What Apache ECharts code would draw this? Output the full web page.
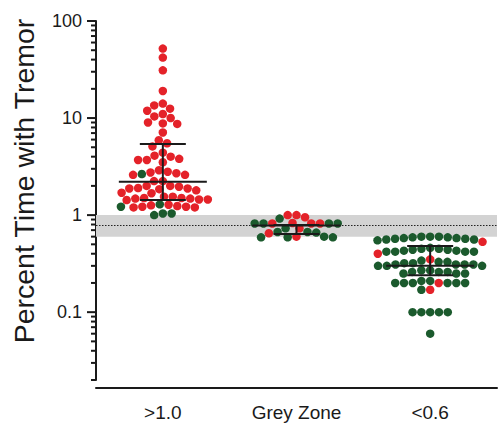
<!DOCTYPE html>
<html>
<head>
<meta charset="utf-8">
<script src="https://cdn.jsdelivr.net/npm/echarts@6/dist/echarts.min.js"></script>
<style>
html,body{margin:0;padding:0;background:#fff;}
#chart{width:499px;height:423px;}
</style>
</head>
<body>
<div id="chart"></div>
<script>
// ---- data ----
const categories = ['>1.0', 'Grey Zone', '<0.6'];
const yTickLabels = [0.1, 1, 10, 100];
const yRange = [0.02, 100];
const greyZone = [0.6, 1.0];
const cutoff = 0.78;

const redGt1 = [52, 42, 31, 19, 14.1, 13.5, 12.5, 11.9, 11.0, 10.4, 10.0, 9.0, 8.8, 8.7, 7.1,
  5.9, 5.5, 5.1, 4.4, 4.0, 3.7, 3.5, 3.7, 3.8, 4.1, 2.8, 2.7, 2.6, 2.6, 2.75, 2.9,
  2.24, 2.0, 1.9, 1.88, 1.8, 1.85, 1.88, 1.96, 2.0, 2.24,
  1.7, 1.55, 1.5, 1.48, 1.45, 1.43, 1.45, 1.48, 1.5, 1.55, 1.68,
  1.26, 1.22, 1.22, 1.2, 1.2, 1.24, 1.28];
const greenGt1 = [2.65, 1.29, 1.22, 1.04, 1.0, 1.04];

const redGrey = [0.95, 1.0, 1.0, 0.83, 0.82, 0.82, 0.82, 0.73, 0.6, 0.65];
const greenGrey = [0.82, 0.82, 0.82, 0.82, 0.92, 0.73, 0.67, 0.66, 0.6, 0.59, 0.59, 0.59, 0.67];

const redLt06 = [0.53, 0.40, 0.35, 0.2, 0.17];
const greenLt06 = [0.6, 0.59, 0.58, 0.57, 0.56, 0.6, 0.6, 0.59, 0.58, 0.57, 0.56, 0.55,
  0.46, 0.45, 0.44, 0.43, 0.42, 0.42, 0.42, 0.42, 0.43, 0.44, 0.45,
  0.34, 0.33, 0.32, 0.31, 0.31, 0.3, 0.3, 0.3, 0.31, 0.31, 0.32, 0.33,
  0.27, 0.26, 0.25, 0.25, 0.25, 0.26, 0.27, 0.26,
  0.21, 0.2, 0.2, 0.2, 0.2, 0.2, 0.2, 0.21, 0.17,
  0.1, 0.1, 0.1, 0.1, 0.1, 0.06];

const medians = [2.2, 0.78, 0.3];
const lowerQ = [1.43, 0.64, 0.24];
const upperQ = [5.4, 0.79, 0.48];

// ---- styling ----
const RED = '#e42229', GREEN = '#1b5a2d', INK = '#1a1a1a';
const FONT = "'Liberation Sans', Arial, sans-serif";
const DOT = 8.5, GAP = 8.8;

const groups = [
  {red: redGt1, green: greenGt1},
  {red: redGrey, green: greenGrey},
  {red: redLt06, green: greenLt06}
];

// minor/major log ticks
const tickVals = [];
for (let k = -2; k <= 2; k++) {
  for (let m = 1; m <= 9; m++) {
    const v = +(m * Math.pow(10, k)).toPrecision(6);
    if (v >= yRange[0] - 1e-9 && v <= yRange[1] + 1e-9) tickVals.push([0, v, m === 1 ? 1 : 0]);
  }
}

const chart = echarts.init(document.getElementById('chart'), null, {renderer: 'svg'});

const baseOption = {
  animation: false,
  backgroundColor: '#fff',
  grid: {left: 96, right: 2, top: 21, bottom: 43},
  xAxis: {
    type: 'category', data: categories, offset: 8,
    axisLine: {lineStyle: {color: INK, width: 2}},
    axisTick: {alignWithLabel: true, length: 9, lineStyle: {color: INK, width: 2}},
    axisLabel: {color: INK, fontSize: 19, fontFamily: FONT, margin: 15},
    splitLine: {show: false}
  },
  yAxis: {
    type: 'log', min: yRange[0], max: yRange[1], logBase: 10,
    axisLine: {show: true, lineStyle: {color: INK, width: 2}},
    axisTick: {show: false},
    splitLine: {show: false},
    axisLabel: {
      color: INK, fontSize: 18, fontFamily: FONT, margin: 14,
      formatter: function (v) {
        const t = yTickLabels.find(t => Math.abs(Math.log10(v) - Math.log10(t)) < 1e-6);
        return t === undefined ? '' : String(t);
      }
    }
  },
  graphic: [{
    type: 'text', x: 24, y: 181, rotation: Math.PI / 2,
    style: {text: 'Percent Time with Tremor', font: "28.5px 'Liberation Sans', Arial, sans-serif",
      fill: INK, align: 'center', verticalAlign: 'middle', textAlign: 'center', textVerticalAlign: 'middle'}
  }],
  series: [
    {
      type: 'scatter', data: [], z: 1,
      markArea: {silent: true, itemStyle: {color: '#d3d3d3'},
        data: [[{yAxis: greyZone[0]}, {yAxis: greyZone[1]}]]},
      markLine: {silent: true, symbol: ['none', 'none'], label: {show: false},
        lineStyle: {color: '#222', width: 1.2, type: [1.5, 1.5]},
        data: [{yAxis: cutoff}]}
    },
    {
      type: 'custom', z: 2, silent: true,
      data: tickVals,
      renderItem: function (params, api) {
        const y = api.coord([0, api.value(1)])[1];
        const x0 = params.coordSys.x;
        const len = api.value(2) ? 9 : 5;
        return {type: 'line', shape: {x1: x0 - len, y1: y, x2: x0, y2: y},
          style: {stroke: INK, lineWidth: 2}};
      }
    }
  ]
};
chart.setOption(baseOption);

// beeswarm offsets computed from pixel positions given by the y scale
function swarm(ys) {
  const order = ys.map((y, i) => i).sort((a, b) => ys[a] - ys[b]);
  const placed = [];
  const dx = new Array(ys.length).fill(0);
  for (const i of order) {
    const y = ys[i];
    const iv = [];
    for (const p of placed) {
      const dy = Math.abs(p.y - y);
      if (dy < GAP) { const w = Math.sqrt(GAP * GAP - dy * dy); iv.push([p.x - w, p.x + w]); }
    }
    const cands = [0];
    iv.forEach(r => cands.push(r[0], r[1]));
    cands.sort((a, b) => Math.abs(a) - Math.abs(b) || a - b);
    let best = 0;
    for (const c of cands) {
      if (iv.every(r => c <= r[0] + 1e-6 || c >= r[1] - 1e-6)) { best = c; break; }
    }
    placed.push({x: best, y: y});
    dx[i] = best;
  }
  return dx;
}

const redData = [], greenData = [];
groups.forEach((g, ci) => {
  const pts = g.red.map(v => ({v: v, c: 'r'})).concat(g.green.map(v => ({v: v, c: 'g'})));
  const ys = pts.map(p => chart.convertToPixel({yAxisIndex: 0}, p.v));
  const dx = swarm(ys);
  pts.forEach((p, i) => {
    const item = {value: [ci, p.v], symbolOffset: [dx[i], 0]};
    (p.c === 'r' ? redData : greenData).push(item);
  });
});

const errData = categories.map((c, i) => [i, medians[i], lowerQ[i], upperQ[i]]);

chart.setOption({
  series: [
    baseOption.series[0],
    baseOption.series[1],
    {type: 'scatter', z: 3, symbol: 'circle', symbolSize: DOT, itemStyle: {color: RED, opacity: 1}, data: redData, silent: true},
    {type: 'scatter', z: 3, symbol: 'circle', symbolSize: DOT, itemStyle: {color: GREEN, opacity: 1}, data: greenData, silent: true},
    {
      type: 'custom', z: 5, silent: true, data: errData,
      renderItem: function (params, api) {
        const c = api.value(0);
        const m = api.coord([c, api.value(1)]);
        const lo = api.coord([c, api.value(2)]);
        const hi = api.coord([c, api.value(3)]);
        const st = {stroke: INK, lineWidth: 2};
        return {type: 'group', children: [
          {type: 'line', shape: {x1: m[0], y1: hi[1], x2: m[0], y2: lo[1]}, style: st},
          {type: 'line', shape: {x1: m[0] - 44, y1: m[1], x2: m[0] + 44, y2: m[1]}, style: st},
          {type: 'line', shape: {x1: m[0] - 23, y1: lo[1], x2: m[0] + 23, y2: lo[1]}, style: st},
          {type: 'line', shape: {x1: m[0] - 23, y1: hi[1], x2: m[0] + 23, y2: hi[1]}, style: st}
        ]};
      }
    }
  ]
});
</script>
</body>
</html>
